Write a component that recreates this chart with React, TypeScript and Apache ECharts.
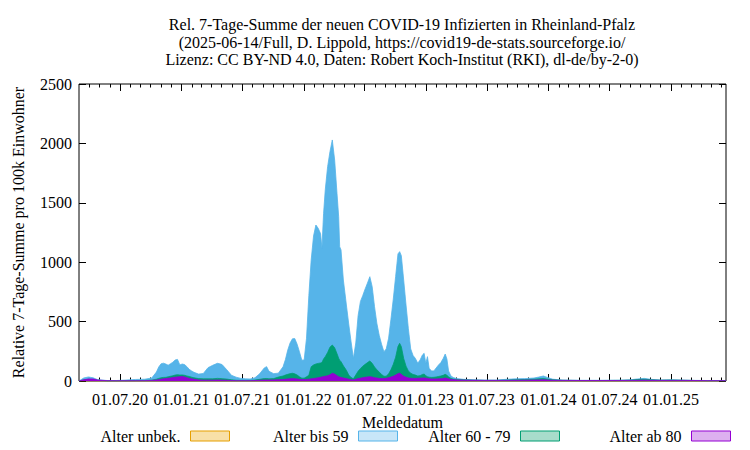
import React, { useEffect, useRef } from 'react';
import * as echarts from 'echarts';

const FONT = "'Liberation Serif', 'DejaVu Serif', serif";

const titleLines = [
  'Rel. 7-Tage-Summe der neuen COVID-19 Infizierten in Rheinland-Pfalz',
  '(2025-06-14/Full, D. Lippold, https://covid19-de-stats.sourceforge.io/',
  'Lizenz: CC BY-ND 4.0, Daten: Robert Koch-Institut (RKI), dl-de/by-2-0)',
];
const xAxisName = 'Meldedatum';
const yAxisName = 'Relative 7-Tage-Summe pro 100k Einwohner';
const seriesNames = ['Alter unbek.', 'Alter bis 59', 'Alter 60 - 79', 'Alter ab 80'];
const seriesColors = ['#E69F00', '#56B4E9', '#009E73', '#9400D3'];
const legendFills = ['#F8E0A8', '#C8E6F8', '#A8DCCB', '#DDB0F0'];

const xMin = '2020-03-01';
const xMax = '2025-06-14';
const majorTickDates = [
  '2020-07-01', '2021-01-01', '2021-07-01', '2022-01-01', '2022-07-01',
  '2023-01-01', '2023-07-01', '2024-01-01', '2024-07-01', '2025-01-01',
];
const yTicks = [0, 500, 1000, 1500, 2000, 2500];

const dates = [
  '2020-03-01', '2020-03-15', '2020-03-29', '2020-04-12', '2020-04-26', '2020-05-24', '2020-06-21', '2020-07-19',
  '2020-08-16', '2020-09-13', '2020-10-04', '2020-10-18', '2020-10-25', '2020-11-01', '2020-11-08', '2020-11-15',
  '2020-11-22', '2020-11-29', '2020-12-06', '2020-12-13', '2020-12-20', '2020-12-27', '2021-01-03', '2021-01-10',
  '2021-01-17', '2021-01-24', '2021-01-31', '2021-02-07', '2021-02-21', '2021-03-07', '2021-03-21', '2021-04-04',
  '2021-04-18', '2021-04-25', '2021-05-02', '2021-05-16', '2021-05-30', '2021-06-13', '2021-06-27', '2021-07-11',
  '2021-07-25', '2021-08-08', '2021-08-22', '2021-09-05', '2021-09-12', '2021-09-19', '2021-10-03', '2021-10-17',
  '2021-10-31', '2021-11-07', '2021-11-14', '2021-11-21', '2021-11-28', '2021-12-05', '2021-12-12', '2021-12-19',
  '2021-12-26', '2022-01-02', '2022-01-09', '2022-01-16', '2022-01-23', '2022-01-30', '2022-02-06', '2022-02-13',
  '2022-02-20', '2022-02-24', '2022-03-01', '2022-03-06', '2022-03-13', '2022-03-20', '2022-03-27', '2022-04-03',
  '2022-04-10', '2022-04-15', '2022-04-18', '2022-04-22', '2022-04-29', '2022-05-08', '2022-05-15', '2022-05-22',
  '2022-05-29', '2022-06-05', '2022-06-12', '2022-06-19', '2022-06-26', '2022-07-03', '2022-07-10', '2022-07-17',
  '2022-07-24', '2022-07-31', '2022-08-07', '2022-08-14', '2022-08-21', '2022-08-28', '2022-09-04', '2022-09-11',
  '2022-09-18', '2022-09-25', '2022-10-02', '2022-10-09', '2022-10-14', '2022-10-19', '2022-10-26', '2022-11-02',
  '2022-11-09', '2022-11-16', '2022-11-23', '2022-11-30', '2022-12-07', '2022-12-14', '2022-12-21', '2022-12-26',
  '2022-12-31', '2023-01-05', '2023-01-10', '2023-01-17', '2023-01-24', '2023-01-31', '2023-02-07', '2023-02-14',
  '2023-02-21', '2023-02-27', '2023-03-04', '2023-03-09', '2023-03-16', '2023-03-23', '2023-04-02', '2023-04-23',
  '2023-05-21', '2023-06-25', '2023-07-30', '2023-08-27', '2023-09-24', '2023-10-22', '2023-11-19', '2023-12-03',
  '2023-12-17', '2023-12-31', '2024-01-14', '2024-02-11', '2024-04-07', '2024-06-02', '2024-07-28', '2024-09-01',
  '2024-09-22', '2024-10-13', '2024-11-03', '2024-12-01', '2025-01-05', '2025-02-09', '2025-03-16', '2025-04-20',
  '2025-05-25', '2025-06-14',
];

const bis59 = [
  0, 25, 34, 27, 11, 4, 4, 8,
  13, 15, 25, 75, 118, 145, 150, 143,
  133, 145, 158, 177, 182, 135, 143, 138,
  121, 98, 85, 73, 58, 63, 112, 132,
  149, 145, 138, 95, 48, 32, 22, 18,
  17, 27, 60, 110, 121, 82, 62, 66,
  120, 180, 260, 320, 355, 357, 310, 245,
  175, 177, 360, 720, 1020, 1220, 1313, 1285,
  1240, 1117, 1411, 1610, 1804, 1930, 2029, 1860,
  1580, 1383, 1131, 1103, 850, 640, 480, 330,
  190, 320, 550, 670, 720, 775, 825, 878,
  794, 626, 485, 385, 310, 247, 270, 360,
  520, 690, 880, 1070, 1089, 1055, 850, 640,
  440, 270, 215, 190, 150, 177, 219, 233,
  149, 205, 107, 85, 85, 110, 135, 155,
  190, 227, 185, 85, 42, 30, 20, 14,
  10, 8, 8, 14, 18, 20, 25, 33,
  42, 28, 15, 8, 6, 6, 7, 10,
  17, 22, 14, 8, 10, 7, 5, 4,
  4, 3,
];

const a6079 = [
  0, 9, 14, 12, 6, 2, 2, 3,
  4, 5, 7, 15, 22, 27, 30, 31,
  35, 40, 44, 50, 53, 50, 51, 48,
  42, 38, 32, 27, 20, 18, 18, 18,
  22, 21, 19, 16, 10, 6, 5, 5,
  5, 8, 14, 20, 21, 18, 20, 33,
  42, 50, 56, 62, 65, 60, 50, 35,
  24, 24, 35, 48, 120, 135, 143, 148,
  152, 155, 185, 205, 240, 285, 303, 280,
  230, 191, 175, 163, 128, 90, 50, 30,
  18, 50, 82, 105, 125, 140, 155, 168,
  149, 118, 95, 75, 55, 40, 40, 60,
  95, 140, 200, 290, 317, 289, 190, 125,
  85, 65, 55, 50, 42, 45, 55, 58,
  45, 36, 32, 30, 31, 34, 38, 42,
  48, 56, 48, 35, 22, 16, 13, 10,
  7, 5, 5, 7, 10, 12, 15, 18,
  20, 15, 10, 6, 4, 4, 5, 7,
  12, 15, 10, 7, 8, 6, 4, 3,
  3, 2,
];

const ab80 = [
  0, 10, 17, 17, 8, 3, 2, 2,
  2, 3, 5, 8, 11, 15, 18, 20,
  23, 26, 29, 32, 34, 36, 38, 34,
  28, 22, 18, 15, 9, 7, 7, 7,
  8, 8, 7, 6, 4, 3, 3, 3,
  3, 4, 6, 8, 8, 8, 9, 11,
  13, 15, 17, 19, 20, 19, 17, 14,
  12, 12, 13, 15, 18, 21, 24, 28,
  32, 34, 38, 40, 44, 52, 65, 58,
  45, 36, 33, 30, 25, 20, 15, 11,
  9, 14, 20, 24, 28, 31, 34, 36,
  33, 28, 25, 22, 20, 20, 23, 28,
  33, 40, 50, 62, 66, 56, 40, 32,
  26, 23, 22, 22, 23, 24, 25, 25,
  24, 22, 19, 17, 17, 17, 18, 19,
  21, 25, 22, 18, 13, 11, 9, 7,
  6, 5, 5, 5, 6, 7, 8, 9,
  10, 8, 6, 5, 4, 4, 4, 5,
  6, 7, 6, 5, 5, 5, 4, 3,
  3, 2,
];

const unbekDates = ['2020-03-01', '2025-06-14'];
const unbek = [0, 0];

function parseDay(s: string): number {
  const [y, m, d] = s.split('-').map(Number);
  return new Date(y, m - 1, d).getTime();
}

function monthStarts(from: string, to: string): number[] {
  const out: number[] = [];
  const a = new Date(parseDay(from));
  const end = parseDay(to);
  const y = a.getFullYear();
  let m = a.getMonth() + 1;
  while (true) {
    const t = new Date(y, m, 1).getTime();
    if (t > end) break;
    out.push(t);
    m += 1;
  }
  return out;
}

function fmtDate(v: number): string {
  const d = new Date(v);
  const dd = String(d.getDate()).padStart(2, '0');
  const mm = String(d.getMonth() + 1).padStart(2, '0');
  const yy = String(d.getFullYear() % 100).padStart(2, '0');
  return `${dd}.${mm}.${yy}`;
}

const legendRights = [520, 352, 190, 19];

export default function App() {
  const ref = useRef<HTMLDivElement>(null);

  useEffect(() => {
    document.body.style.margin = '0';
    if (!ref.current) return;
    const chart = echarts.init(ref.current, undefined, { renderer: 'svg' });

    const major = majorTickDates.map(parseDay);
    const minor = monthStarts(xMin, xMax);
    const textBase = { fontFamily: FONT, fontSize: 16, color: '#000' };

    const xBase = {
      type: 'value' as const,
      min: parseDay(xMin),
      max: parseDay(xMax),
      splitLine: { show: false },
      axisLine: { show: false },
    };

    const valueSeries = [unbek, bis59, a6079, ab80];
    const seriesDates = [unbekDates, dates, dates, dates];

    const option: any = {
      animation: false,
      backgroundColor: '#fff',
      title: {
        text: titleLines.join('\n'),
        left: 402,
        top: 16,
        textAlign: 'center',
        padding: 0,
        textStyle: { ...textBase, fontWeight: 'normal', lineHeight: 17.5 },
      },
      legend: seriesNames.map((n, i) => ({
        data: [{ name: n, itemStyle: { color: legendFills[i], borderColor: seriesColors[i], borderWidth: 1 } }],
        right: legendRights[i],
        top: 428,
        align: 'right',
        padding: 0,
        icon: 'rect',
        itemWidth: 39,
        itemHeight: 10,
        selectedMode: false,
        textStyle: { ...textBase, padding: [0, 5, 0, 0] },
      })),
      grid: {
        left: 79,
        right: 24,
        top: 84,
        bottom: 69,
        show: true,
        borderColor: '#000',
        borderWidth: 1,
        backgroundColor: 'transparent',
        outerBoundsMode: 'none',
      },
      xAxis: [
        {
          ...xBase,
          position: 'bottom',
          axisTick: { show: true, inside: true, length: 7, customValues: major, lineStyle: { color: '#000' } },
          axisLabel: { show: true, customValues: major, formatter: (v: number) => fmtDate(v), margin: 10, ...textBase },
          name: xAxisName,
          nameLocation: 'middle',
          nameGap: 33,
          nameTextStyle: textBase,
        },
        {
          ...xBase,
          position: 'bottom',
          axisTick: { show: true, inside: true, length: 3.5, customValues: minor, lineStyle: { color: '#000' } },
          axisLabel: { show: false },
        },
        {
          ...xBase,
          position: 'top',
          axisTick: { show: true, inside: true, length: 7, customValues: major, lineStyle: { color: '#000' } },
          axisLabel: { show: false },
        },
        {
          ...xBase,
          position: 'top',
          axisTick: { show: true, inside: true, length: 3.5, customValues: minor, lineStyle: { color: '#000' } },
          axisLabel: { show: false },
        },
      ],
      yAxis: [
        {
          type: 'value',
          min: yTicks[0],
          max: yTicks[yTicks.length - 1],
          interval: yTicks[1] - yTicks[0],
          position: 'left',
          axisLine: { show: false },
          splitLine: { show: false },
          axisTick: { show: true, inside: true, length: 7, lineStyle: { color: '#000' } },
          axisLabel: { margin: 7, formatter: (v: number) => String(v), ...textBase },
          name: yAxisName,
          nameLocation: 'middle',
          nameGap: 53,
          nameTextStyle: textBase,
        },
        {
          type: 'value',
          min: yTicks[0],
          max: yTicks[yTicks.length - 1],
          interval: yTicks[1] - yTicks[0],
          position: 'right',
          axisLine: { show: false },
          splitLine: { show: false },
          axisTick: { show: true, inside: true, length: 7, lineStyle: { color: '#000' } },
          axisLabel: { show: false },
        },
      ],
      series: seriesNames.map((n, i) => ({
        name: n,
        type: 'line',
        xAxisIndex: 0,
        yAxisIndex: 0,
        data: seriesDates[i].map((d, j) => [parseDay(d), valueSeries[i][j]]),
        symbol: 'none',
        lineStyle: { width: 0.8, color: seriesColors[i] },
        itemStyle: { color: seriesColors[i] },
        areaStyle: { color: seriesColors[i], opacity: 1 },
        z: 2 + i,
      })),
    };

    chart.setOption(option);
    return () => chart.dispose();
  }, []);

  return <div ref={ref} style={{ width: 750, height: 450 }} />;
}
